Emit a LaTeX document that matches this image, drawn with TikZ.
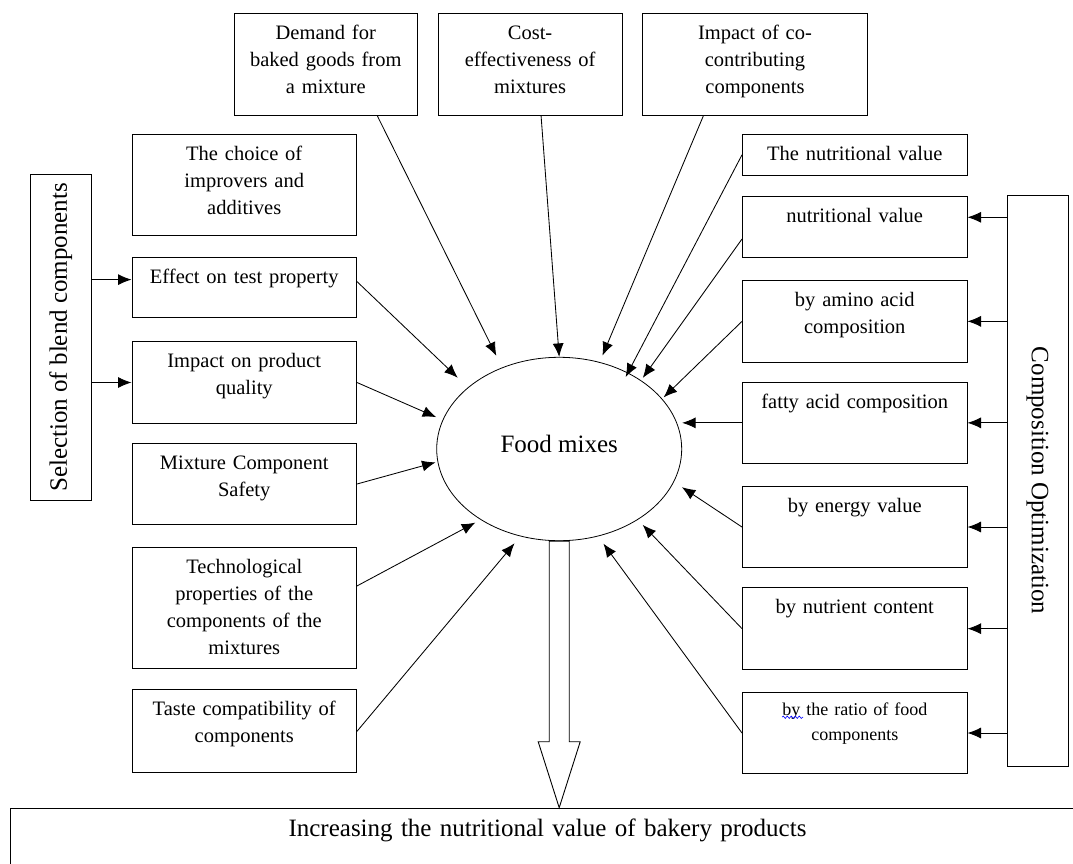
\documentclass[tikz,border=0pt]{standalone}
\usepackage{fontspec}
\setmainfont{Liberation Serif}
\usetikzlibrary{shapes.geometric, arrows.meta, positioning, decorations.pathmorphing}

\tikzset{
  factor/.style={draw, line width=1pt, inner sep=0pt, align=center, anchor=north west,
    font=\fontsize{20.5pt}{27pt}\selectfont, text height=26pt},
  side/.style={factor, text width=224.5pt},
  group/.style={draw, line width=1pt, inner sep=0pt, font=\fontsize{25pt}{30pt}\selectfont},
  hub/.style={draw, ellipse, line width=0.8pt, inner sep=0pt, font=\fontsize{25pt}{30pt}\selectfont},
  arr/.style={-{Latex[length=13.5pt,width=11pt]}, line width=0.85pt},
}

\begin{document}
\begin{tikzpicture}[x=1pt, y=-1pt]
\useasboundingbox (0,0) rectangle (1073,863);
\clip (0,0) rectangle (1073,863);

% Food mixes
\node[hub, minimum width=245pt, minimum height=183.4pt, text height=20pt, text depth=14pt] (mix) at (559.2,449) {Food mixes};

% Top factors
\node[factor, text width=183.5pt, text depth=76.3pt] (demand) at (233.5,12.7) {Demand for\\baked goods from\\a mixture};
\node[factor, text width=184pt, text depth=76.3pt, right=19.6pt of demand] (cost) {Cost-\\effectiveness of\\mixtures};
\node[factor, text width=224.3pt, text depth=76.3pt, right=19.7pt of cost] (coimpact) {Impact of co-\\contributing\\components};

% Selection of blend components
\node[side, text depth=74.7pt] (choice) at (131.5,134) {The choice of\\improvers and\\additives};
\node[side, text depth=34pt, below=21.3pt of choice] (effect) {Effect on test property};
\node[side, text depth=55.4pt, below=23.3pt of effect] (prodq) {Impact on product\\quality};
\node[side, text depth=55pt, below=19.3pt of prodq] (safety) {Mixture Component\\Safety};
\node[side, text depth=95.3pt, below=21.7pt of safety] (techno) {Technological\\properties of the\\components of the\\mixtures};
\node[side, text depth=57pt, below=20.3pt of techno] (taste) {Taste compatibility of\\components};
\node[group, rotate=90, minimum width=326.7pt, minimum height=61.5pt] (select) at (60.75,337.35) {Selection of blend components};

% Composition optimization
\node[side, text depth=14.7pt] (nutr1) at (742,134) {The nutritional value};
\node[side, text depth=35.3pt, below=20.3pt of nutr1] (nutr2) {nutritional value};
\node[side, text depth=56.3pt, below=21.4pt of nutr2] (amino) {by amino acid\\composition};
\node[side, text depth=55.3pt, below=18.7pt of amino] (fatty) {fatty acid composition};
\node[side, text depth=55.6pt, below=21.7pt of fatty] (energy) {by energy value};
\node[side, text depth=55.7pt, below=19pt of energy] (nutrient) {by nutrient content};
\node[side, text height=23pt, text depth=58.6pt, font=\fontsize{18pt}{25.5pt}\selectfont, below=21.7pt of nutrient] (ratio) {by the ratio of food\\components};
\node[group, rotate=-90, minimum width=571pt, minimum height=61pt] (compo) at (1037.5,480.5) {Composition Optimization};

% Result
\node[factor, text width=1075pt, text height=28.3pt, text depth=80pt, font=\fontsize{25pt}{30pt}\selectfont] (out) at (9.5,807.7) {Increasing the nutritional value of bakery products};

% Arrows into the mixes
\draw[arr, shorten >=13pt] (demand.-45) -- (mix.125);
\draw[arr] (cost.-78) -- (mix.90);
\draw[arr, shorten >=7pt] (coimpact.-135) -- (mix.65);
\draw[arr, shorten >=-5pt] (nutr1.west) -- (mix.48);
\draw[arr, shorten >=3pt] (nutr2.186) -- (mix.40);
\draw[arr, shorten >=2pt] (amino.west) -- (mix.26);
\draw[arr] (fatty.west) -- (fatty.west -| mix.east);
\draw[arr, shorten >=9.5pt] (energy.west) -- (mix.-16);
\draw[arr, shorten >=7pt] (nutrient.west) -- (mix.-42);
\draw[arr, shorten >=9pt] (ratio.west) -- (mix.-66);
\draw[arr, shorten >=14pt] (effect.3) -- (mix.146);
\draw[arr, shorten >=7pt] (prodq.east) -- (mix.166);
\draw[arr, shorten >=2pt] (safety.east) -- (mix.186);
\draw[arr, shorten >=6pt] (techno.11) -- (mix.222);
\draw[arr, shorten >=9pt] (taste.east) -- (mix.246);

% Group arrows
\draw[arr] (effect.176 -| select.south) -- (effect.176);
\draw[arr] (prodq.west -| select.south) -- (prodq.west);
\foreach \b in {nutr2.5, amino.east, fatty.east, energy.east, nutrient.east, ratio.east}
  \draw[arr] (\b -| compo.south) -- (\b);

% Hollow arrow to the result
\coordinate (tip) at (mix.south |- out.north);
\draw[line width=0.9pt, fill=white] ([xshift=-10pt]mix.south) -- ([xshift=-10pt,yshift=66pt]tip) -- ([xshift=-21pt,yshift=66pt]tip) -- (tip) -- ([xshift=21pt,yshift=66pt]tip) -- ([xshift=10pt,yshift=66pt]tip) -- ([xshift=10pt]mix.south) -- cycle;

% spell-check mark
\draw[blue, line width=0.6pt, decorate, decoration={snake, amplitude=1.2pt, segment length=4pt}] ([shift={(40pt,-25.5pt)}]ratio.north west) -- ++(21,0);
\end{tikzpicture}
\end{document}
